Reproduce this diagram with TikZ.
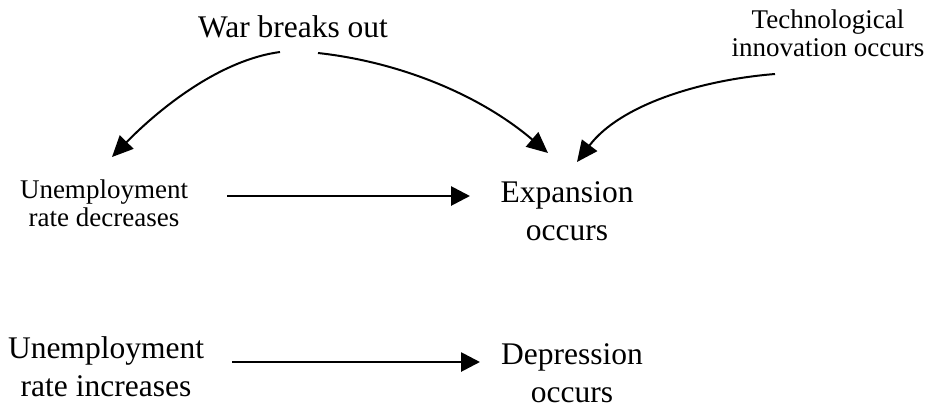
\documentclass[tikz,border=0pt]{standalone}
\usepackage{fontspec}
\setmainfont{Liberation Serif}
\usetikzlibrary{arrows.meta}
\begin{document}
\begin{tikzpicture}[x=1pt,y=-1pt,
  bigtext/.style={inner sep=0pt,align=center,font=\fontsize{31.5}{38}\selectfont},
  smalltext/.style={inner sep=0pt,align=center,font=\fontsize{27}{28}\selectfont},
  harrow/.style={line width=2.8pt,-{Triangle[length=19pt,width=19pt]}},
  carrow/.style={line width=2pt,-{Triangle[length=21pt,width=19pt]}}]
\useasboundingbox (0,0) rectangle (929,408);
\node[bigtext] (war) at (293,27) {War breaks out};
\node[smalltext] (tech) at (828,33) {Technological\\innovation occurs};
\node[smalltext] (dec) at (104,203) {Unemployment\\rate decreases};
\node[bigtext] (exp) at (567,211) {Expansion\\occurs};
\node[bigtext] (inc) at (106,367) {Unemployment\\rate increases};
\node[bigtext] (dep) at (572,373) {Depression\\occurs};
\coordinate (wl) at (280,52);
\coordinate (wr) at (318,53);
\coordinate (ts) at (775,74);
\coordinate (dl) at (112,157);
\coordinate (el) at (548,153);
\coordinate (er) at (577,162);
\coordinate (h1s) at (227,196);
\coordinate (h1e) at (470,196);
\coordinate (h2s) at (232,362);
\coordinate (h2e) at (480,362);
\draw[carrow] (wl) .. controls (220,60) and (160,108) .. (dl);
\draw[carrow] (wr) .. controls (400,62) and (480,95) .. (el);
\draw[carrow] (ts) .. controls (700,80) and (620,105) .. (er);
\draw[harrow] (h1s) -- (h1e);
\draw[harrow] (h2s) -- (h2e);
\end{tikzpicture}
\end{document}
